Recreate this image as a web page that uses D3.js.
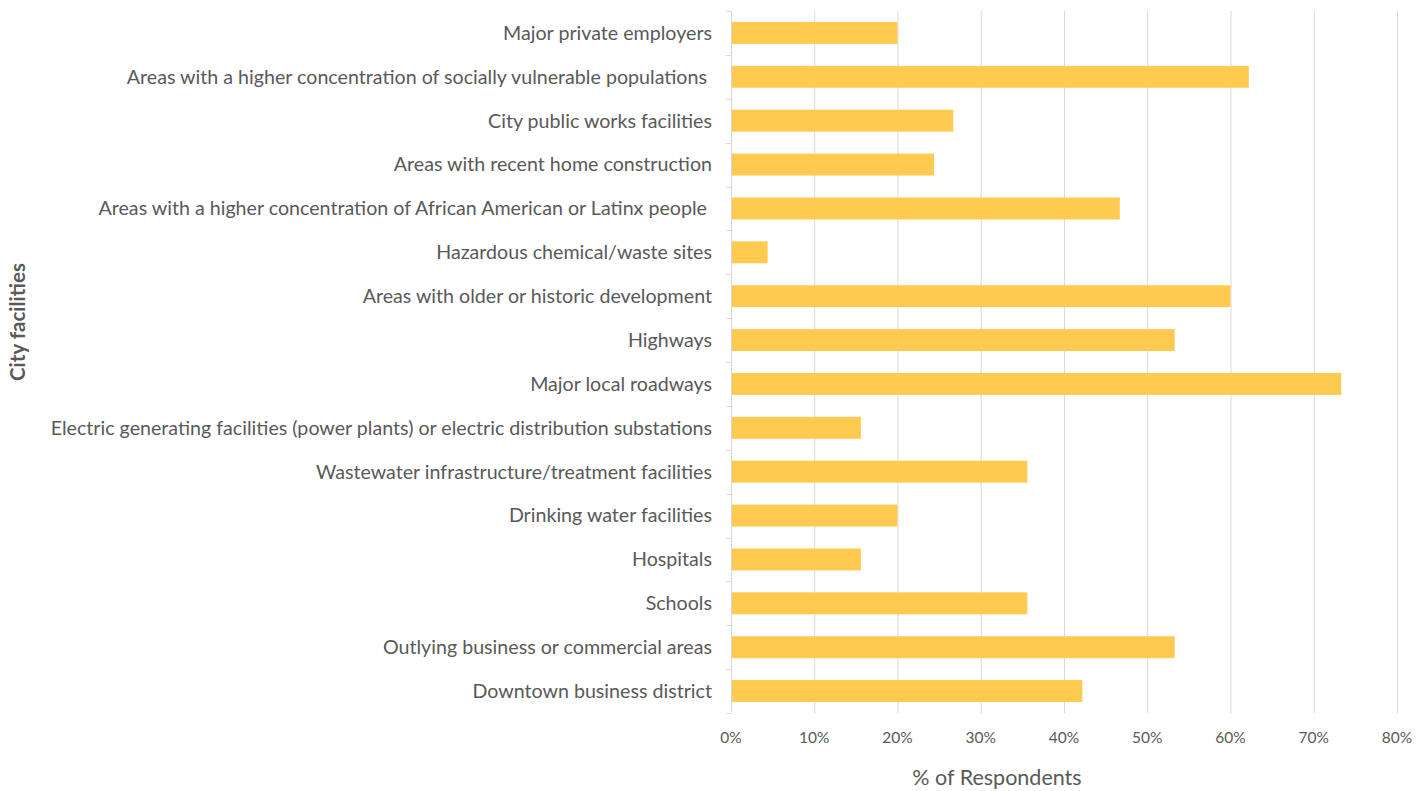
<!DOCTYPE html>
<html><head><meta charset="utf-8">
<script src="https://cdn.jsdelivr.net/npm/d3@7"></script>
<style>body{margin:0;background:#fff}text{font-family:Lato,"Open Sans",sans-serif}</style>
</head><body>
<svg id="c" width="1427" height="791"></svg>
<script>
const categories = [
 "Major private employers",
 "Areas with a higher concentration of socially vulnerable populations ",
 "City public works facilities",
 "Areas with recent home construction",
 "Areas with a higher concentration of African American or Latinx people ",
 "Hazardous chemical/waste sites",
 "Areas with older or historic development",
 "Highways",
 "Major local roadways",
 "Electric generating facilities (power plants) or electric distribution substations",
 "Wastewater infrastructure/treatment facilities",
 "Drinking water facilities",
 "Hospitals",
 "Schools",
 "Outlying business or commercial areas",
 "Downtown business district"
];
const values = [0.200,0.622,0.267,0.244,0.467,0.044,0.600,0.533,0.733,0.156,0.356,0.200,0.156,0.356,0.533,0.422];
const xTicks = [0,0.1,0.2,0.3,0.4,0.5,0.6,0.7,0.8];

(function(){
const svg = d3.select("#c");
const pL = 731, pR = 1397, pT = 11, pB = 713;
const x = d3.scaleLinear().domain([0,0.8]).range([pL,pR]);
const y = d3.scaleBand().domain(categories).range([pT,pB]).paddingInner(0.5).paddingOuter(0.25);
const txt = "#595959";

svg.append("g").selectAll("line").data(xTicks.slice(1)).join("line")
  .attr("x1",d=>x(d)+0.5).attr("x2",d=>x(d)+0.5).attr("y1",pT).attr("y2",pB)
  .attr("stroke","#d9d9d9").attr("stroke-width",1);

svg.append("g").selectAll("rect").data(values).join("rect")
  .attr("x",x(0)).attr("y",(d,i)=>y(categories[i]))
  .attr("width",d=>x(d)-x(0)).attr("height",y.bandwidth())
  .attr("fill","#FFCA4F");

const step = y.step();
const bounds = d3.range(categories.length+1).map(i=>pT+i*step);
svg.append("line").attr("x1",pL+0.5).attr("x2",pL+0.5).attr("y1",pT).attr("y2",pB).attr("stroke","#d9d9d9");
svg.append("g").selectAll("line").data(bounds).join("line")
  .attr("x1",pL-5).attr("x2",pL).attr("y1",d=>Math.round(d)+0.5).attr("y2",d=>Math.round(d)+0.5).attr("stroke","#d9d9d9");

const lab = svg.append("g").selectAll("text").data(categories).join("text")
  .attr("x",712).attr("y",d=>y(d)+y.bandwidth()/2)
  .attr("dy","0.35em").attr("text-anchor","end")
  .attr("fill",txt).style("white-space","pre")
  .text(d=>d);
lab.attr("font-size",100);
const longNode = lab.filter(d=>d.startsWith("Electric")).node();
const w100 = longNode.getComputedTextLength();
lab.attr("font-size", 100*662/w100);

svg.append("g").selectAll("text").data(xTicks).join("text")
  .attr("x",d=>x(d)).attr("y",743).attr("text-anchor","middle")
  .attr("fill",txt).attr("font-size",15.5).text(d3.format(".0%"));

svg.append("text").attr("x",997).attr("y",785).attr("text-anchor","middle")
  .attr("fill",txt).attr("font-size",21.5).text("% of Respondents");
svg.append("text").attr("transform","translate(25,322) rotate(-90)").attr("text-anchor","middle")
  .attr("fill",txt).attr("font-size",20.5).attr("font-weight","bold").text("City facilities");
})();
</script>
</body></html>
